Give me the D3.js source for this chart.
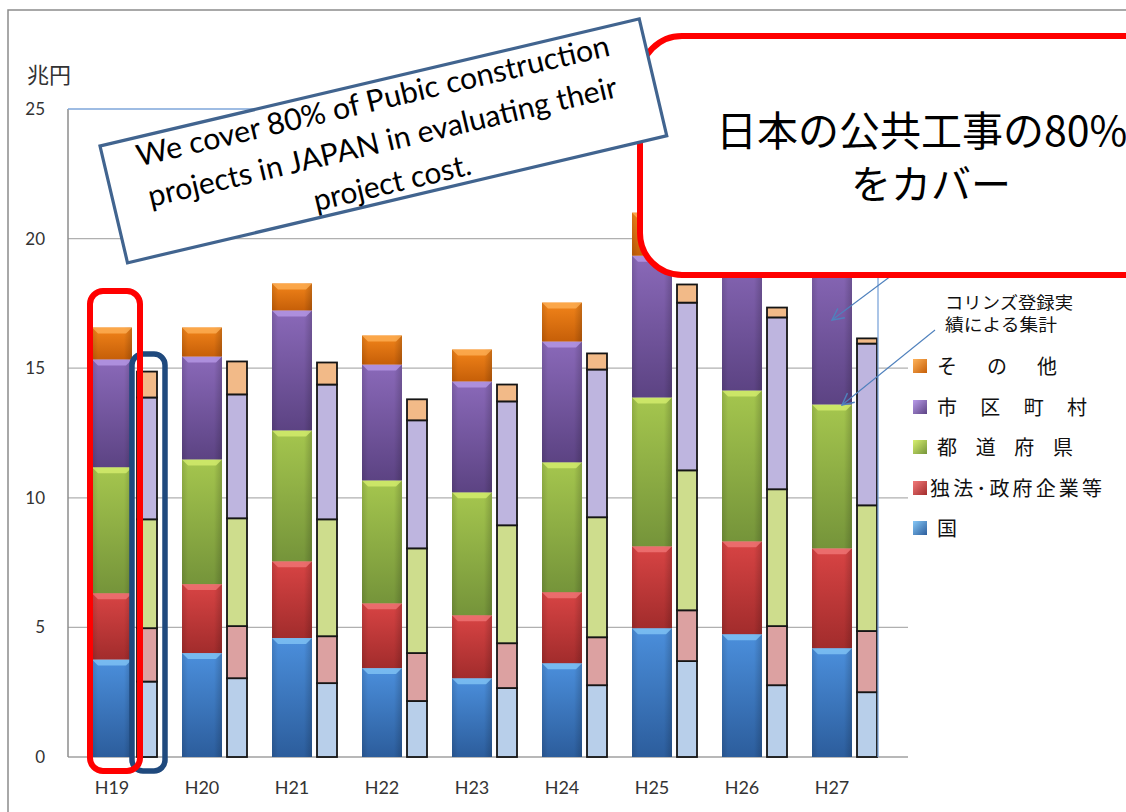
<!DOCTYPE html>
<html>
<head>
<meta charset="utf-8">
<script src="https://cdn.jsdelivr.net/npm/d3@7"></script>
<style>
  html, body { margin: 0; padding: 0; background: #fff; }
  svg { display: block; }
</style>
</head>
<body>
<script>
// years on the x axis
var years = ['H19', 'H20', 'H21', 'H22', 'H23', 'H24', 'H25', 'H26', 'H27'];
var seriesKeys = ['国', '独法･政府企業等', '都道府県', '市区町村', 'その他'];
var legendLabels = ['国', '独法･政府企業等', '都 道 府 県', '市 区 町 村', 'そ の 他'];
var yTicks = [0, 5, 10, 15, 20, 25];

// wide bars: public construction total (兆円)
var totalKuni     = [3.76, 4.01, 4.59, 3.43, 3.04, 3.62, 4.97, 4.74, 4.20];
var totalDokuhou  = [2.56, 2.66, 2.96, 2.50, 2.43, 2.74, 3.16, 3.58, 3.85];
var totalToDoFuKen = [4.86, 4.81, 5.05, 4.74, 4.74, 5.01, 5.74, 5.82, 5.55];
var totalShiKuChoSon = [4.16, 3.97, 4.63, 4.47, 4.28, 4.66, 5.47, 5.56, 5.70];
var totalSonota   = [1.23, 1.12, 1.04, 1.12, 1.23, 1.50, 1.66, 0.80, 0.70];

// narrow bars: コリンズ登録実績による集計
var corinsKuni     = [2.91, 3.04, 2.85, 2.16, 2.66, 2.77, 3.70, 2.77, 2.50];
var corinsDokuhou  = [2.06, 2.01, 1.81, 1.85, 1.73, 1.85, 1.96, 2.28, 2.36];
var corinsToDoFuKen = [4.20, 4.16, 4.51, 4.04, 4.55, 4.63, 5.40, 5.28, 4.85];
var corinsShiKuChoSon = [4.70, 4.78, 5.20, 4.94, 4.78, 5.70, 6.47, 6.63, 6.24];
var corinsSonota   = [1.00, 1.27, 0.85, 0.81, 0.65, 0.62, 0.70, 0.38, 0.20];

var totalSeries = [totalKuni, totalDokuhou, totalToDoFuKen, totalShiKuChoSon, totalSonota];
var corinsSeries = [corinsKuni, corinsDokuhou, corinsToDoFuKen, corinsShiKuChoSon, corinsSonota];

// colours (top, bottom, bevel highlight) for the wide bars, flat fill for the narrow ones
var darkTop    = ['#4b8fdc', '#d84444', '#a5c64e', '#8a69b9', '#f2841a'];
var darkBottom = ['#2c5d9c', '#a22c2c', '#75943a', '#5c4383', '#c65f08'];
var darkLight  = ['#86c8f7', '#f27a7a', '#d8f070', '#b99cea', '#ffb35a'];
var lightFill  = ['#b8cfea', '#dca1a1', '#cedd8d', '#beb5df', '#f2ba88'];

function rowsOf(arrs) {
  return years.map(function (y, i) {
    var r = { year: y };
    seriesKeys.forEach(function (k, j) { r[k] = arrs[j][i]; });
    return r;
  });
}

var stack = d3.stack().keys(seriesKeys);
var totalStack = stack(rowsOf(totalSeries));
var corinsStack = stack(rowsOf(corinsSeries));

var W = 1126, H = 812;
var svg = d3.select('body').append('svg').attr('width', W).attr('height', H);

var x = d3.scaleBand().domain(years).range([68, 878]);
var y = d3.scaleLinear().domain([0, 25]).range([757, 109]);

var defs = svg.append('defs');
seriesKeys.forEach(function (k, i) {
  var g = defs.append('linearGradient').attr('id', 'g' + i)
    .attr('x1', 0).attr('y1', 0).attr('x2', 0).attr('y2', 1);
  g.append('stop').attr('offset', '0%').attr('stop-color', darkTop[i]);
  g.append('stop').attr('offset', '100%').attr('stop-color', darkBottom[i]);
  var lg = defs.append('linearGradient').attr('id', 'lg' + i)
    .attr('x1', 0).attr('y1', 0).attr('x2', 1).attr('y2', 1);
  lg.append('stop').attr('offset', '0%').attr('stop-color', darkLight[i]);
  lg.append('stop').attr('offset', '100%').attr('stop-color', darkBottom[i]);
});
var side = defs.append('linearGradient').attr('id', 'side')
  .attr('x1', 0).attr('y1', 0).attr('x2', 1).attr('y2', 0);
side.append('stop').attr('offset', '0%').attr('stop-color', '#000').attr('stop-opacity', 0.12);
side.append('stop').attr('offset', '15%').attr('stop-color', '#000').attr('stop-opacity', 0);
side.append('stop').attr('offset', '80%').attr('stop-color', '#000').attr('stop-opacity', 0);
side.append('stop').attr('offset', '100%').attr('stop-color', '#000').attr('stop-opacity', 0.18);

defs.append('marker').attr('id', 'arr')
  .attr('viewBox', '0 0 12 12').attr('refX', 11).attr('refY', 6)
  .attr('markerWidth', 14).attr('markerHeight', 14).attr('markerUnits', 'userSpaceOnUse')
  .attr('orient', 'auto')
  .append('path').attr('d', 'M1,1 L11,6 L1,11')
  .attr('fill', 'none').attr('stroke', '#4f81bd').attr('stroke-width', 1.2);

// outer chart frame
svg.append('path').attr('d', 'M8,' + H + ' L8,10 L' + W + ',10')
  .attr('fill', 'none').attr('stroke', '#8c8c8c').attr('stroke-width', 1.5);

// gridlines
svg.append('g').selectAll('line').data(yTicks.filter(function (t) { return t > 0 && t < 25; }))
  .join('line')
  .attr('x1', 68).attr('x2', 908)
  .attr('y1', function (d) { return y(d); }).attr('y2', function (d) { return y(d); })
  .attr('stroke', '#b0b0b0').attr('stroke-width', 1.3);

svg.append('line').attr('x1', 68).attr('x2', 908).attr('y1', y(0)).attr('y2', y(0))
  .attr('stroke', '#a0a0a0').attr('stroke-width', 1.5);
svg.append('line').attr('x1', 68).attr('x2', 68).attr('y1', y(25)).attr('y2', y(0))
  .attr('stroke', '#8c8c8c').attr('stroke-width', 1.5);

// wide bars with bevel look
var darkOff = 24, darkW = 40;
var gDark = svg.append('g');
totalStack.forEach(function (layer, i) {
  var seg = gDark.selectAll('g.s' + i).data(layer).join('g').attr('class', 's' + i);
  seg.append('rect')
    .attr('x', function (d) { return x(d.data.year) + darkOff; })
    .attr('y', function (d) { return y(d[1]); })
    .attr('width', darkW)
    .attr('height', function (d) { return y(d[0]) - y(d[1]); })
    .attr('fill', 'url(#g' + i + ')');
  seg.append('rect')
    .attr('x', function (d) { return x(d.data.year) + darkOff; })
    .attr('y', function (d) { return y(d[1]); })
    .attr('width', darkW)
    .attr('height', function (d) { return y(d[0]) - y(d[1]); })
    .attr('fill', 'url(#side)');
  seg.append('path')
    .attr('d', function (d) {
      var x0 = x(d.data.year) + darkOff, y0 = y(d[1]);
      return 'M' + x0 + ',' + y0 + ' L' + (x0 + darkW) + ',' + y0 +
        ' L' + (x0 + darkW - 6) + ',' + (y0 + 6) + ' L' + (x0 + 6) + ',' + (y0 + 6) + 'Z';
    })
    .attr('fill', darkLight[i]).attr('opacity', 0.75);
});

// narrow bars, flat with black outline
var lightOff = 69, lightW = 20;
var gLight = svg.append('g');
corinsStack.forEach(function (layer, i) {
  gLight.selectAll('rect.c' + i).data(layer).join('rect').attr('class', 'c' + i)
    .attr('x', function (d) { return x(d.data.year) + lightOff; })
    .attr('y', function (d) { return y(d[1]); })
    .attr('width', lightW)
    .attr('height', function (d) { return y(d[0]) - y(d[1]); })
    .attr('fill', lightFill[i])
    .attr('stroke', '#151515').attr('stroke-width', 1.8);
});

// plot-area outline (top and right, light blue)
svg.append('path').attr('d', 'M68,' + y(25) + ' L878,' + y(25) + ' L878,' + y(0))
  .attr('fill', 'none').attr('stroke', '#7fa7da').attr('stroke-width', 1.3);

// y axis labels
var yAxis = svg.append('g').attr('transform', 'translate(68,0)')
  .call(d3.axisLeft(y).tickValues(yTicks).tickSize(0).tickPadding(23));
yAxis.select('.domain').remove();
yAxis.selectAll('text').attr('font-family', 'Lato, "Open Sans", sans-serif')
  .attr('font-size', 17).attr('fill', '#333');

svg.append('text').attr('x', 27).attr('y', 83).text('兆円')
  .attr('font-family', '"Noto Sans CJK JP", sans-serif').attr('font-size', 22).attr('fill', '#333');

// x axis labels
var xAxis = svg.append('g').attr('transform', 'translate(-1,' + y(0) + ')')
  .call(d3.axisBottom(x).tickSize(0).tickPadding(24));
xAxis.select('.domain').remove();
xAxis.selectAll('text').attr('font-family', 'Lato, "Open Sans", sans-serif')
  .attr('font-size', 18).attr('fill', '#333');

// legend (top item is その他)
var legendX = 913, legendRows = [528, 488, 447, 407, 366];
var legendWidths = [20, 172, 136, 150, 120];
var legendStart = [937, 930, 937, 937, 937];
var lg = svg.append('g');
seriesKeys.forEach(function (k, i) {
  lg.append('rect').attr('x', legendX).attr('y', legendRows[i] - 7)
    .attr('width', 14).attr('height', 14).attr('fill', 'url(#lg' + i + ')');
  var t = lg.append('text').attr('x', legendStart[i]).attr('y', legendRows[i] + 8)
    .attr('font-family', '"Noto Sans CJK JP", sans-serif').attr('font-size', 20).attr('fill', '#111')
    .text(legendLabels[i]);
  if (i > 0) t.attr('textLength', legendWidths[i]).attr('lengthAdjust', 'spacing');
});

// note, two lines
svg.append('text').attr('x', 945).attr('y', 309)
  .attr('font-family', '"Noto Sans CJK JP", sans-serif').attr('font-size', 17).attr('fill', '#111')
  .text('コリンズ登録実')
  .attr('textLength', 128).attr('lengthAdjust', 'spacingAndGlyphs');
svg.append('text').attr('x', 945).attr('y', 331)
  .attr('font-family', '"Noto Sans CJK JP", sans-serif').attr('font-size', 17).attr('fill', '#111')
  .text('績による集計')
  .attr('textLength', 112).attr('lengthAdjust', 'spacingAndGlyphs');

// arrows from the note to the H27 bars
svg.append('line').attr('x1', 915).attr('y1', 258).attr('x2', 832).attr('y2', 320)
  .attr('stroke', '#4f81bd').attr('stroke-width', 1.1).attr('marker-end', 'url(#arr)');
svg.append('line').attr('x1', 935).attr('y1', 330).attr('x2', 842).attr('y2', 405)
  .attr('stroke', '#4f81bd').attr('stroke-width', 1.1).attr('marker-end', 'url(#arr)');

// red rounded callout (runs off the right edge)
svg.append('rect').attr('x', 640).attr('y', 36).attr('width', 640).attr('height', 239)
  .attr('rx', 42).attr('ry', 42)
  .attr('fill', '#fff').attr('stroke', '#ff0000').attr('stroke-width', 6);
svg.append('text').attr('x', 716).attr('y', 146)
  .attr('font-family', '"Noto Sans CJK JP", sans-serif').attr('font-size', 41).attr('fill', '#000')
  .text('日本の公共工事の80%');
svg.append('text').attr('x', 851).attr('y', 199)
  .attr('font-family', '"Noto Sans CJK JP", sans-serif').attr('font-size', 40).attr('fill', '#000')
  .text('をカバー');

// tilted english note
var note = svg.append('g').attr('transform', 'translate(100,146) rotate(-13.26)');
note.append('rect').attr('width', 554).attr('height', 120)
  .attr('fill', '#fff').attr('stroke', '#41648f').attr('stroke-width', 3.2);
var noteLines = ['We cover 80% of Pubic construction', 'projects in JAPAN in evaluating their', 'project cost.'];
var noteWidths = [485, 481, 161];
noteLines.forEach(function (s, i) {
  note.append('text').attr('x', 276).attr('y', 29 + i * 42)
    .attr('text-anchor', 'middle')
    .attr('font-family', 'Lato, "Open Sans", sans-serif').attr('font-size', 30).attr('fill', '#000')
    .attr('textLength', noteWidths[i]).attr('lengthAdjust', 'spacingAndGlyphs')
    .text(s);
});

// highlight frames around the H19 pair
svg.append('rect').attr('x', 132).attr('y', 354).attr('width', 33).attr('height', 417)
  .attr('rx', 11).attr('fill', 'none').attr('stroke', '#1f497d').attr('stroke-width', 5.5);
svg.append('rect').attr('x', 90).attr('y', 291).attr('width', 50).attr('height', 480)
  .attr('rx', 13).attr('fill', 'none').attr('stroke', '#ff0000').attr('stroke-width', 6);
</script>
</body>
</html>
